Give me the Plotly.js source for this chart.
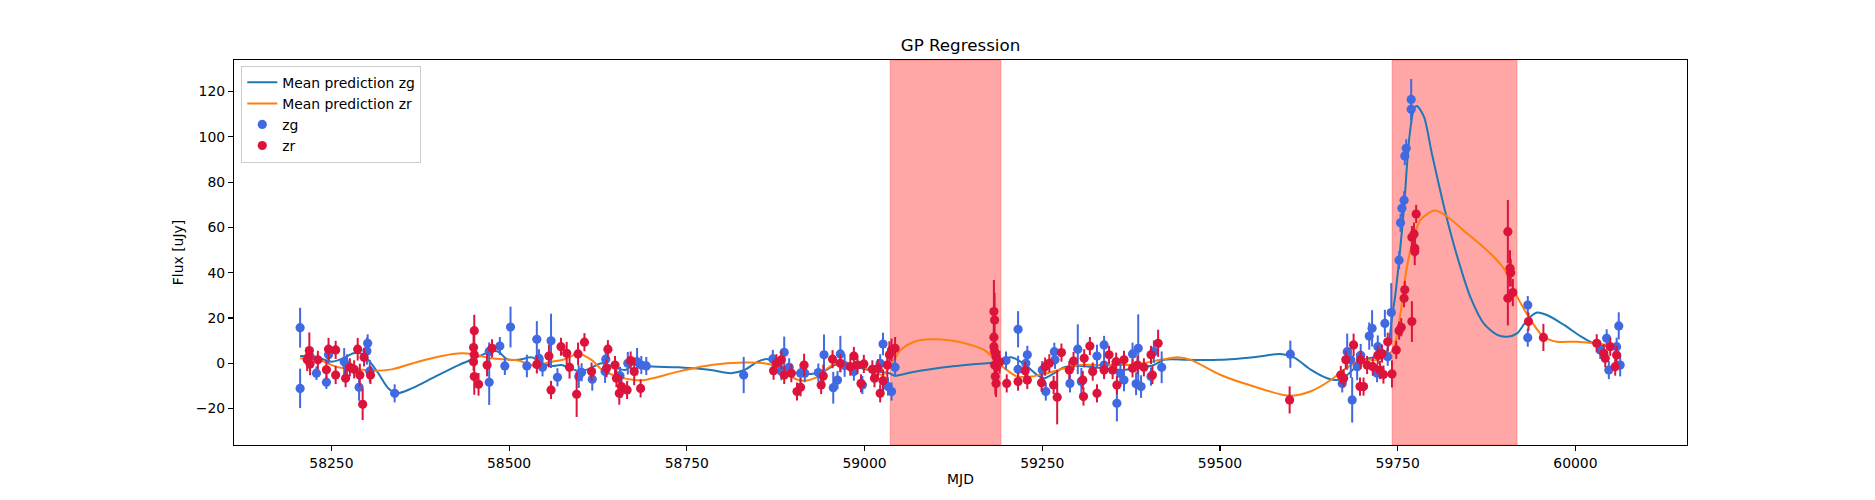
<!DOCTYPE html>
<html>
<head>
<meta charset="utf-8">
<script src="https://cdn.plot.ly/plotly-3.0.1.min.js"></script>
<style>
  body { margin: 0; background: #fff; }
  #plot { width: 1875px; height: 500px; }
</style>
</head>
<body>
<div id="plot"></div>
<script>
// observations, zg band
var zgMjd = [58206, 58206, 58220, 58229, 58243, 58246, 58268, 58272, 58289, 58300, 58301, 58304, 58339,
  58472, 58472, 58487, 58494, 58502, 58525, 58539, 58542, 58547, 58559, 58568, 58598, 58602, 58617, 58636,
  58635, 58656, 58667, 58680, 58686, 58693, 58830, 58871, 58887, 58894, 58883, 58910, 58916, 58935, 58943,
  58956, 58962, 58966, 58972, 58985, 58997, 59026, 59022, 59033, 59038, 59043, 59199, 59216, 59216, 59227,
  59229, 59250, 59255, 59267, 59268, 59289, 59300, 59305, 59327, 59337, 59337, 59355, 59360, 59365, 59377,
  59382, 59385, 59389, 59403, 59407, 59418, 59599, 59672, 59679, 59684, 59686, 59693, 59698, 59710, 59714,
  59721, 59722, 59732, 59736, 59741, 59752, 59754, 59756, 59759, 59760, 59762, 59769, 59769, 59933, 59933,
  60035, 60044, 60047, 60058, 60061, 60063];
var zgFlux = [15.7, -11.1, 3.0, -4.4, -8.4, 3.7, 0.7, -1.0, -10.6, 5.4, 8.8, -3.5, -13.3,
  5.2, -8.4, 7.6, -1.2, 16.0, -1.2, 10.6, 2.2, -1.8, 9.9, -6.2, -5.9, -4.0, -7.1, 1.8,
  -3.7, -5.5, 0.0, 0.7, -0.8, -1.2, -5.2, 1.9, 4.8, -1.8, -3.5, -4.4, -4.4, -4.1, 3.7,
  -10.8, -7.4, 4.1, -1.0, -3.7, -9.6, 8.5, 0.0, -10.3, -12.5, -1.8, 1.2, 15.0, -2.7, 0.0,
  3.7, -3.0, -12.5, 5.1, 1.5, -8.9, 6.2, -8.1, 3.2, 8.1, -0.8, -17.7, -4.5, -7.4, 4.1,
  -9.1, 6.6, -10.3, -5.9, 5.1, -1.8, 4.0, -8.9, 5.1, 1.5, -16.2, -1.5, 3.5, 12.0, 15.4,
  -4.4, 7.3, 17.6, 2.9, 22.4, 45.5, 62.0, 68.4, 72.0, 91.5, 94.9, 112.1, 116.5, 25.7, 11.3,
  5.9, 11.0, -3.0, 7.3, 16.5, -0.8];
var zgErr = [8.8, 8.7, 4, 3, 3, 4, 6, 5, 6, 6, 4, 5, 4,
  4, 10, 4, 4, 9, 5, 8, 4, 4, 12, 4, 5, 4, 5, 5,
  5, 4, 5, 6, 4, 4, 8, 4, 7, 4, 4, 4, 4, 4, 9,
  7, 4, 8, 5, 4, 4, 5, 4, 4, 4, 4, 4, 8, 6, 5,
  4, 4, 4, 4, 4, 4, 11, 6, 5, 4, 5, 8, 5, 5, 5,
  5, 15, 5, 4, 5, 7, 6, 4, 8, 8, 10, 6, 5, 6, 8,
  4, 5, 6, 4, 13, 4, 4, 4, 4, 4, 4, 5, 9, 4, 4,
  4, 4, 4, 4, 6, 5];

// observations, zr band
var zrMjd = [58216, 58219, 58220, 58218, 58231, 58243, 58246, 58256, 58256, 58270, 58276, 58282, 58287,
  58290, 58296, 58294, 58305, 58451, 58450, 58451, 58450, 58451, 58457, 58469, 58476, 58539, 58556, 58559,
  58573, 58581, 58585, 58595, 58597, 58606, 58616, 58637, 58639, 58649, 58651, 58655, 58658, 58666, 58671,
  58676, 58685, 58872, 58876, 58883, 58887, 58897, 58905, 58910, 58915, 58939, 58942, 58955, 58966, 58980,
  58985, 58990, 58995, 58999, 59011, 59014, 59019, 59022, 59026, 59032, 59035, 59038, 59043, 59182, 59183,
  59182, 59182, 59183, 59185, 59183, 59186, 59184, 59185, 59190, 59200, 59216, 59226, 59229, 59249, 59254,
  59260, 59266, 59271, 59277, 59288, 59294, 59307, 59308, 59309, 59317, 59321, 59327, 59337, 59344, 59349,
  59354, 59355, 59365, 59377, 59384, 59393, 59403, 59405, 59413, 59598, 59670, 59674, 59677, 59688, 59697,
  59698, 59702, 59707, 59715, 59722, 59725, 59728, 59730, 59736, 59742, 59748, 59752, 59755, 59759, 59760,
  59770, 59770, 59773, 59774, 59774, 59776, 59905, 59908, 59909, 59905, 59912, 59934, 59955, 60030, 60040,
  60042, 60049, 60058, 60056];
var zrFlux = [1.5, 5.6, -0.3, 2.9, 1.5, -2.9, 6.2, 5.9, -5.2, -6.6, -1.8, -2.7, 6.2,
  -5.2, 2.6, -18.1, -5.2, 14.4, 6.9, 3.7, 0.7, -5.9, -9.3, -0.8, 6.6, -0.5, 3.2, -11.8,
  7.3, 4.4, -1.8, -13.7, 4.1, 9.3, -3.7, -2.2, 6.2, -0.8, -6.6, -13.3, -10.3, -11.8, 1.2,
  -3.7, -11.1, -3.3, 0.0, 1.5, -5.2, -4.4, -12.5, -10.6, -0.8, -9.6, -5.6, 1.8, 0.0, -1.5,
  3.2, -0.8, -8.9, -0.3, -2.7, -6.6, -2.2, -13.3, -7.7, -0.8, 3.7, 5.9, 6.6, 22.8, 19.1,
  11.5, 7.3, 5.2, 2.9, -0.8, -1.5, -5.9, -8.9, 0.5, -8.9, -8.1, -3.3, -7.4, -8.6, -1.5,
  0.0, -9.6, -15.0, 4.7, -3.0, 1.0, -7.4, -14.7, 2.2, 7.6, -3.7, -13.3, -3.0, 3.7, -3.0,
  0.7, -9.6, 1.5, -2.2, -0.8, -1.8, 3.7, -5.2, 8.8, -16.2, -5.2, -6.6, 1.5, 8.1, -10.3,
  1.5, -10.3, -0.8, -1.5, 3.5, -3.0, 4.3, -5.0, 9.5, -4.7, 5.9, 14.4, 15.9, 28.7, 32.4,
  18.4, 55.6, 57.1, 49.3, 50.8, 65.9, 58.1, 41.9, 40.0, 28.7, 31.2, 18.4, 11.4, 8.8, 4.4,
  2.2, 7.3, 3.6, -1.5];
var zrErr = [5, 8, 5, 4, 4, 4, 5, 4, 4, 4, 4, 4, 5,
  5, 4, 7, 4, 7, 6, 5, 4, 8, 5, 5, 4, 4, 5, 4,
  4, 5, 5, 10, 5, 4, 4, 4, 4, 4, 4, 5, 5, 4, 4,
  6, 4, 4, 4, 4, 4, 4, 4, 4, 5, 4, 5, 4, 4, 4,
  4, 4, 4, 4, 4, 4, 4, 4, 5, 6, 6, 5, 5, 14, 12,
  10, 8, 8, 6, 6, 6, 8, 6, 5, 4, 4, 4, 4, 4, 4,
  4, 4, 12, 4, 4, 4, 4, 4, 4, 4, 4, 4, 4, 4, 4,
  4, 4, 4, 4, 4, 4, 4, 4, 6, 6, 4, 4, 4, 5, 4,
  4, 4, 4, 4, 4, 4, 4, 4, 4, 6, 4, 4, 4, 4, 4,
  9, 5, 5, 6, 4, 4, 14, 8, 6, 12, 6, 4, 6, 4, 4,
  4, 4, 4, 4];

// GP mean predictions
var zgMeanMjd = [58206, 58227, 58251, 58267, 58281, 58293, 58304, 58316, 58330, 58342, 58363, 58396, 58429,
  58452, 58473, 58485, 58497, 58513, 58532, 58546, 58560, 58574, 58583, 58597, 58611, 58630, 58649, 58663,
  58677, 58691, 58738, 58784, 58812, 58831, 58850, 58864, 58878, 58901, 58925, 58944, 58958, 58972, 58990,
  59019, 59035, 59042, 59065, 59112, 59159, 59182, 59197, 59206, 59215, 59229, 59243, 59253, 59267, 59281,
  59304, 59330, 59361, 59384, 59407, 59421, 59454, 59501, 59553, 59585, 59604, 59627, 59651, 59665, 59679,
  59702, 59721, 59733, 59737, 59742, 59747, 59752, 59759, 59766, 59773, 59777, 59787, 59798, 59813, 59824,
  59838, 59852, 59871, 59890, 59904, 59918, 59932, 59946, 59960, 59984, 60007, 60026, 60060];
var zgMeanFlux = [3.2, 2.9, 0.7, 2.2, 4.4, 4.1, 0.7, -4.4, -11.0, -13.3, -11.1, -5.9, -0.8,
  2.2, 5.1, 5.1, 1.8, 1.5, 2.6, 0.0, -1.2, -0.8, -1.8, -3.3, -2.7, 0.0, -1.8, -3.0,
  0.0, -1.2, -1.8, -3.0, -4.4, -3.0, 0.7, 1.8, -0.8, -4.1, -4.7, -3.3, -0.8, 0.0, -1.8,
  -3.7, -4.4, -5.5, -4.1, -1.8, -0.3, 0.3, 1.8, 2.6, 1.5, -1.5, -5.2, -6.6, -4.4, -1.8,
  -1.2, -2.0, -3.0, -2.2, -0.8, 1.5, 1.5, 1.5, 2.9, 4.1, 2.6, -2.7, -6.6, -7.4, -5.2,
  1.5, 2.9, 3.6, 8.0, 20.0, 31.0, 45.5, 69.1, 98.5, 112.5, 113.6, 108.8, 92.7, 72.0, 58.1,
  42.7, 29.4, 17.6, 12.5, 11.7, 13.2, 19.1, 22.4, 21.3, 16.9, 12.0, 8.8, 7.0];
var zrMeanMjd = [58206, 58232, 58260, 58288, 58311, 58335, 58372, 58405, 58433, 58447, 58475, 58513, 58536,
  58555, 58578, 58597, 58616, 58630, 58653, 58677, 58691, 58738, 58784, 58831, 58859, 58883, 58897, 58911,
  58930, 58948, 58962, 58986, 59009, 59026, 59037, 59051, 59070, 59093, 59122, 59145, 59168, 59182, 59197,
  59215, 59234, 59253, 59281, 59304, 59337, 59380, 59417, 59440, 59459, 59501, 59548, 59598, 59627, 59656,
  59674, 59698, 59721, 59735, 59745, 59754, 59763, 59773, 59782, 59802, 59820, 59843, 59866, 59885, 59900,
  59918, 59937, 59955, 59974, 60002, 60026, 60060];
var zrMeanFlux = [2.2, 1.5, -1.8, -2.7, -3.3, -2.7, 0.7, 3.2, 4.4, 4.1, 2.2, 1.2, -1.2,
  0.3, 1.8, 4.1, 1.5, -2.7, -5.9, -7.4, -7.4, -3.7, -0.8, 0.3, 0.0, -2.2, -5.9, -7.7,
  -6.6, -2.2, 0.3, -0.8, -3.0, -5.2, -0.8, 5.9, 9.5, 10.6, 10.0, 8.5, 5.9, 2.2, -2.2,
  -5.9, -5.9, -4.7, -2.2, -0.8, -0.8, -0.5, 1.5, 2.6, 1.5, -5.2, -10.3, -14.4, -12.5, -7.4,
  -3.0, 1.5, 1.4, 2.9, 7.3, 22.1, 42.7, 55.9, 63.3, 67.4, 64.7, 58.5, 52.5, 47.0, 41.5,
  29.4, 19.1, 11.7, 9.5, 9.5, 8.8, 7.5];

// shaded intervals (MJD start, end)
var spanStart = [59036, 59742];
var spanEnd = [59192, 59918];

var font = 'DejaVu Sans, sans-serif';

var traces = [
  {
    type: 'scatter', mode: 'lines', name: 'Mean prediction zg',
    x: zgMeanMjd, y: zgMeanFlux,
    line: {color: '#1f77b4', width: 2, shape: 'spline', smoothing: 0.8}
  },
  {
    type: 'scatter', mode: 'lines', name: 'Mean prediction zr',
    x: zrMeanMjd, y: zrMeanFlux,
    line: {color: '#ff7f0e', width: 2, shape: 'spline', smoothing: 0.8}
  },
  {
    type: 'scatter', mode: 'markers', name: 'zg',
    x: zgMjd, y: zgFlux,
    marker: {color: 'royalblue', size: 9.2},
    error_y: {type: 'data', array: zgErr, visible: true, color: 'royalblue', thickness: 2, width: 0}
  },
  {
    type: 'scatter', mode: 'markers', name: 'zr',
    x: zrMjd, y: zrFlux,
    marker: {color: 'crimson', size: 9.2},
    error_y: {type: 'data', array: zrErr, visible: true, color: 'crimson', thickness: 2, width: 0}
  }
];

var shapes = spanStart.map(function(s, i) {
  return {
    type: 'rect', xref: 'x', yref: 'paper', x0: s, x1: spanEnd[i], y0: 0, y1: 1,
    fillcolor: 'rgba(255,0,0,0.35)', line: {color: 'rgba(240,0,0,0.2)', width: 1}, layer: 'below'
  };
});

var layout = {
  width: 1875, height: 500,
  margin: {l: 234, r: 187.5, t: 60, b: 55},
  paper_bgcolor: '#fff', plot_bgcolor: '#fff',
  font: {family: font, size: 13.9, color: '#000'},
  title: {text: 'GP Regression', font: {family: font, size: 16.7, color: '#000'},
    x: 0.5, xref: 'paper', xanchor: 'center', y: 0.91, yref: 'container', yanchor: 'middle'},
  showlegend: true,
  legend: {x: 0.005, y: 0.985, xanchor: 'left', yanchor: 'top', bgcolor: 'rgba(255,255,255,0.8)',
    bordercolor: '#cccccc', borderwidth: 1, font: {family: font, size: 13.9}, tracegroupgap: 0},
  xaxis: {
    range: [58113, 60157], showgrid: false, zeroline: false,
    showline: true, mirror: true, linecolor: '#000', linewidth: 1.1,
    ticks: 'outside', ticklen: 5, tickwidth: 1.1, tickcolor: '#000',
    tickvals: [58250, 58500, 58750, 59000, 59250, 59500, 59750, 60000],
    ticktext: ['58250', '58500', '58750', '59000', '59250', '59500', '59750', '60000'],
    title: {text: 'MJD', font: {family: font, size: 13.9}, standoff: 4}
  },
  yaxis: {
    range: [-36.1, 133.9], showgrid: false, zeroline: false,
    showline: true, mirror: true, linecolor: '#000', linewidth: 1.1,
    ticks: 'outside', ticklen: 5, tickwidth: 1.1, tickcolor: '#000',
    tickvals: [-20, 0, 20, 40, 60, 80, 100, 120],
    title: {text: 'Flux [uJy]', font: {family: font, size: 13.9}, standoff: 8}
  },
  shapes: shapes
};

Plotly.newPlot('plot', traces, layout, {staticPlot: true});
</script>
</body>
</html>
